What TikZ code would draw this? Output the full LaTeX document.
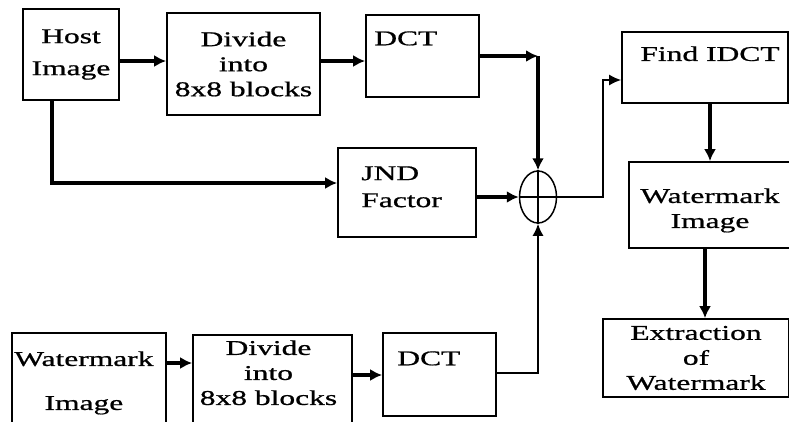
\documentclass[tikz,border=0pt]{standalone}
\usepackage{fontspec}
\newfontfamily\diagfont{Liberation Serif}[FakeStretch=1.5,FakeBold=0.8]
\usetikzlibrary{arrows.meta,positioning,shapes.geometric}

\begin{document}
\begin{tikzpicture}[
  x=1pt, y=-1pt,
  box/.style={draw, line width=1.7pt, align=center, inner sep=0pt, font=\diagfont\fontsize{21}{25}\selectfont},
  txt/.style={align=center, inner sep=0pt, font=\diagfont\fontsize{21}{25}\selectfont},
  summer/.style={draw, ellipse, line width=1.5pt, inner sep=0pt, minimum width=37pt, minimum height=52pt},
  arrow/.style={-{Latex[length=12pt,width=12pt]}, line width=3.4pt},
  thinarrow/.style={-{Latex[length=12pt,width=11pt]}, line width=1.6pt}
]
\fill[white] (0,0) rectangle (789,421);
\useasboundingbox (0,0) rectangle (789,421);

\node[box, minimum width=96pt, minimum height=91pt] (host) at (71,54.5) {Host\\[7pt]Image};
\node[box, minimum width=153pt, minimum height=102pt] (diva) at (243.5,64) {Divide\\into\\8x8 blocks};
\node[box, minimum width=113pt, minimum height=82pt] (dcta) at (422.5,56) {};
\node[txt, below right=17pt and 9pt of dcta.north west] (dctatxt) {DCT};
\node[box, minimum width=138pt, minimum height=89pt] (jnd) at (407,192.5) {};
\node[txt, align=left, below right=19pt and 24pt of jnd.north west] (jndtxt) {JND\\[2pt]Factor};
\node[summer] (sum) at (538,197) {};

\node[box, minimum width=166pt, minimum height=71pt] (idct) at (705,67.5) {};
\node[txt, below=15pt of idct.north, xshift=5pt] (idcttxt) {Find IDCT};
\node[box, minimum width=166pt, minimum height=86pt] (wmimg) at (712,205) {};
\node[txt, below=27pt of wmimg.north, xshift=-2pt] (wmimgtxt) {Watermark\\Image};
\node[box, minimum width=186pt, minimum height=78pt] (extr) at (696,358) {Extraction\\of\\Watermark};

\node[box, minimum width=154pt, minimum height=112pt] (wmb) at (89,389) {};
\node[txt, below right=19pt and 3pt of wmb.north west] (wmbtxt) {Watermark\\[19pt]Image};
\node[box, minimum width=159pt, minimum height=110pt] (divb) at (272.5,390) {};
\node[txt, below=6pt of divb.north, xshift=-4pt] (divbtxt) {Divide\\into\\8x8 blocks};
\node[box, minimum width=113pt, minimum height=83pt] (dctb) at (439.5,374.5) {};
\node[txt, below right=19pt and 15pt of dctb.north west] (dctbtxt) {DCT};

\draw[line width=1.5pt] (sum.north) -- (sum.south) (sum.west) -- (sum.east);
\coordinate (top) at (dcta.east -| sum.north);

\draw[arrow] ([yshift=-6.5pt]host.east) -- ([yshift=-6.5pt]host.east -| diva.west);
\draw[arrow] ([yshift=3pt]diva.east) -- ([yshift=3pt]diva.east -| dcta.west);
\draw[arrow] (dcta.east) -- (top);
\draw[arrow] (top) -- (sum.north);
\draw[arrow] ([xshift=-19pt]host.south) |- ([yshift=9.5pt]jnd.west);
\draw[arrow] (jnd.east |- sum.west) -- (sum.west);
\draw[thinarrow] (sum.east) -- ++(46,0) |- ([yshift=-12.5pt]idct.west);
\draw[arrow] ([xshift=5pt]idct.south) -- ([xshift=5pt]idct.south |- wmimg.north);
\draw[arrow] ([xshift=-7pt]wmimg.south) -- ([xshift=-7pt]wmimg.south |- extr.north);
\draw[arrow] ([yshift=26pt]wmb.east) -- ([yshift=26pt]wmb.east -| divb.west);
\draw[arrow] ([yshift=15pt]divb.east) -- ([yshift=15pt]divb.east -| dctb.west);
\draw[thinarrow] ([yshift=1.5pt]dctb.east) -| (sum.south);
\end{tikzpicture}
\end{document}
